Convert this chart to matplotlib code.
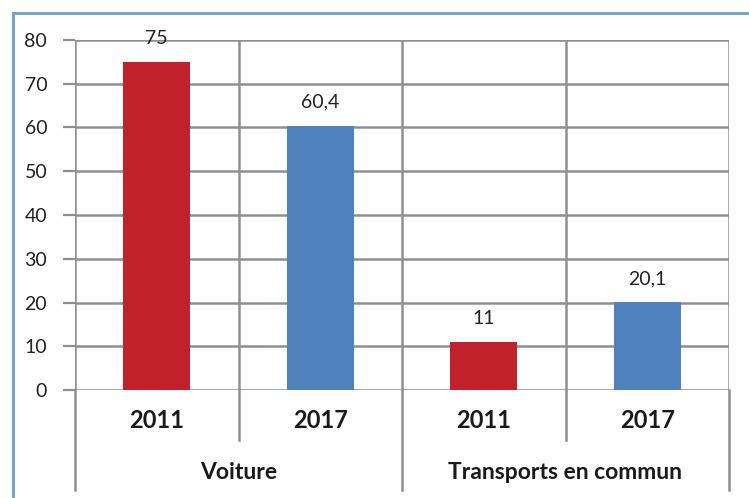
import matplotlib
matplotlib.use("Agg")
import matplotlib.pyplot as plt
from matplotlib.lines import Line2D
from matplotlib.transforms import blended_transform_factory

groups = ["Voiture", "Transports en commun"]
years = ["2011", "2017"]
values = [75, 60.4, 11, 20.1]
colors = ["#C0212A", "#4F81BD", "#C0212A", "#4F81BD"]
yticks = [0, 10, 20, 30, 40, 50, 60, 70, 80]

plt.rcParams['font.family'] = ['Lato', 'DejaVu Sans']
grid_c = "#8E9090"

fig = plt.figure(figsize=(7.49, 4.98), dpi=100)
ax = fig.add_axes([75/749, 108/498, 654/749, 350/498])

n = len(values)
xs = list(range(1, n + 1))
bars = ax.bar(xs, values, width=0.41, color=colors, zorder=3)

def fmt(v):
    s = ("%g" % v).replace(".", ",")
    return s

for x, v in zip(xs, values):
    ax.annotate(fmt(v), (x, v), xytext=(0, 17), textcoords="offset points",
                ha="center", va="center", fontsize=14, color="#222222", zorder=4)

ax.set_xlim(0.5, n + 0.5)
ax.set_ylim(0, 80)
ax.set_yticks(yticks)
ax.set_yticklabels([str(t) for t in yticks], fontsize=14, color="#222222")
ax.set_xticks([])
for s in ax.spines.values():
    s.set_visible(False)
ax.tick_params(axis="y", direction="out", length=9, width=1.6, color=grid_c, pad=11)

for t in yticks:
    ax.axhline(t, color=grid_c, lw=1.8, zorder=1)
for b in [0.5 + i for i in range(n + 1)]:
    ax.axvline(b, color=grid_c, lw=1.8, zorder=1)

tr = blended_transform_factory(ax.transData, ax.transAxes)
# multi-level separators below the axis
for i in range(n + 1):
    b = 0.5 + i
    low = -0.286 if i % 2 == 0 else -0.143
    ax.plot([b, b], [0, low], transform=tr, color=grid_c, lw=1.8, clip_on=False)

for i, x in enumerate(xs):
    ax.text(x, -0.088, years[i % 2], transform=tr, ha="center", va="center",
            fontsize=17, fontweight="bold", color="#1a1a1a")
for g, name in enumerate(groups):
    cx = 1.5 + 2 * g
    ax.text(cx, -0.236, name, transform=tr, ha="center", va="center",
            fontsize=16.5, fontweight="bold", color="#1a1a1a")

# outer chart border (left and top visible)
bc = "#6F9BD6"
fig.add_artist(Line2D([12.5/749, 12.5/749], [0, 1 - 13/498], transform=fig.transFigure, color=bc, lw=2))
fig.add_artist(Line2D([12.5/749, 1.0], [1 - 13/498, 1 - 13/498], transform=fig.transFigure, color=bc, lw=2))

fig.savefig("out.png", dpi=100)
